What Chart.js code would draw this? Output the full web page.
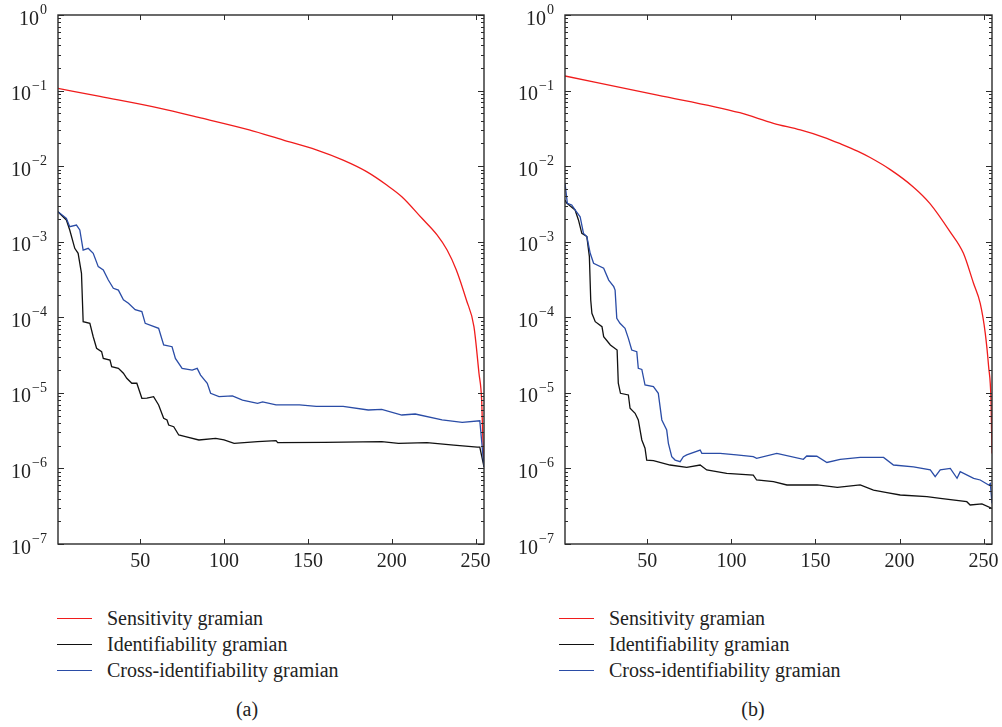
<!DOCTYPE html>
<html>
<head>
<meta charset="utf-8">
<title>Gramian eigenvalue spectra</title>
<script src="https://cdn.jsdelivr.net/npm/chart.js@4.4.1/dist/chart.umd.min.js"></script>
<style>
  body {
    margin: 0;
    width: 1002px;
    height: 727px;
    position: relative;
    overflow: hidden;
    background: #fff;
    font-family: "Liberation Serif", "DejaVu Serif", serif;
    color: #222;
  }
  .panel { position: absolute; top: 0; width: 501px; height: 600px; }
  .legend { position: absolute; top: 605px; font-size: 20px; }
  .legend .row { display: flex; align-items: center; height: 26px; white-space: nowrap; }
  .legend .swatch { width: 35px; height: 0; border-top: 1.5px solid; margin-right: 15px; }
  .caption { position: absolute; top: 698px; width: 120px; text-align: center; font-size: 20px; }
</style>
</head>
<body>
<div class="panel" style="left:0"><canvas id="chartA" width="501" height="600"></canvas></div>
<div class="panel" style="left:501px"><canvas id="chartB" width="501" height="600"></canvas></div>
<div class="legend" id="legendA" style="left:57px"></div>
<div class="legend" id="legendB" style="left:559px"></div>
<div class="caption" style="left:187px">(a)</div>
<div class="caption" style="left:693px">(b)</div>

<script>
// axis ticks
const xTicks = [50, 100, 150, 200, 250];
const yExponents = [0, -1, -2, -3, -4, -5, -6, -7];

const seriesNames = ['Sensitivity gramian', 'Identifiability gramian', 'Cross-identifiability gramian'];
const seriesColors = ['#f01c1c', '#111111', '#2a4ca6'];

const serif = '"Liberation Serif", "DejaVu Serif", serif';

// panel (a)
const sensXA = [1, 26, 62, 86, 115, 135, 155, 171, 185, 197, 206, 218, 227, 233, 238.5, 244.5, 249, 252, 253.6, 254.2, 255];
const sensA = [0.107, 0.0836, 0.0582, 0.0434, 0.0301, 0.0222, 0.0164, 0.0120, 8.45e-3, 5.62e-3, 3.94e-3, 2.04e-3, 1.23e-3, 7.76e-4, 4.23e-4, 1.69e-4, 7.52e-5, 1.82e-5, 8.04e-6, 2.95e-6, 1.05e-6];

const identXA = [1, 6, 8, 11, 13, 15, 16, 20, 22, 24, 27, 28, 32, 33, 37, 40, 42, 45, 48, 51, 54, 58, 61, 64, 66, 67, 70, 73, 77, 85, 95, 100, 106, 120, 131, 132, 160, 194, 204, 221, 237, 251, 252.5, 255];
const identA = [2.49e-3, 1.94e-3, 1.43e-3, 8.18e-4, 7.02e-4, 3.82e-4, 8.75e-5, 8.32e-5, 5.53e-5, 3.89e-5, 3.51e-5, 2.86e-5, 2.72e-5, 2.22e-5, 2.11e-5, 1.82e-5, 1.56e-5, 1.34e-5, 1.34e-5, 8.47e-6, 8.51e-6, 8.91e-6, 6.92e-6, 4.60e-6, 4.37e-6, 3.75e-6, 3.56e-6, 2.77e-6, 2.63e-6, 2.38e-6, 2.50e-6, 2.38e-6, 2.15e-6, 2.26e-6, 2.33e-6, 2.19e-6, 2.21e-6, 2.26e-6, 2.15e-6, 2.19e-6, 2.04e-6, 1.91e-6, 1.91e-6, 1.05e-6];

const crossXA = [1, 6, 8, 12, 14, 16, 19, 22, 25, 28, 31, 34, 37, 40, 43, 47, 51, 53, 61, 64, 69, 71, 75, 81, 84, 86, 90, 92, 97, 105, 111, 120, 123, 131, 145, 155, 171, 186, 194, 206, 214, 230, 242, 252.5, 255];
const crossA = [2.49e-3, 2.04e-3, 1.58e-3, 1.66e-3, 1.43e-3, 7.76e-4, 8.18e-4, 7.02e-4, 4.68e-4, 4.23e-4, 3.11e-4, 2.42e-4, 2.29e-4, 1.70e-4, 1.53e-4, 1.26e-4, 1.19e-4, 8.32e-5, 7.14e-5, 4.30e-5, 4.08e-5, 2.86e-5, 2.11e-5, 2.00e-5, 2.11e-5, 1.72e-5, 1.34e-5, 9.86e-6, 8.91e-6, 9.12e-6, 8.04e-6, 7.26e-6, 7.59e-6, 6.92e-6, 6.92e-6, 6.61e-6, 6.61e-6, 5.93e-6, 6.03e-6, 5.09e-6, 5.25e-6, 4.38e-6, 4.07e-6, 4.27e-6, 1.05e-6];

// panel (b)
const sensXB = [1, 56, 105, 125, 141, 155, 165, 175, 182.5, 194.5, 208, 218, 230, 238, 244, 248, 251, 253, 254.4, 255];
const sensB = [0.156, 0.0873, 0.0509, 0.0369, 0.0301, 0.0241, 0.0197, 0.0158, 0.0130, 9.0e-3, 5.35e-3, 3.22e-3, 1.36e-3, 7.02e-4, 2.82e-4, 1.53e-4, 6.14e-5, 2.22e-5, 8.04e-6, 1.58e-6];

const identXB = [1, 2, 7, 9, 11, 14, 15.5, 16.3, 17, 19, 23, 24, 28, 32, 32.7, 34, 38.7, 39.7, 42.7, 44.6, 46.7, 48.6, 49.6, 53.6, 63.5, 73.4, 81.4, 85.3, 97.2, 113, 115, 125, 133, 151, 163, 176.6, 184.5, 192.5, 200.4, 216.3, 224.2, 240, 242, 249, 255];
const identB = [3.56e-3, 3.24e-3, 2.63e-3, 1.94e-3, 1.29e-3, 1.17e-3, 6.34e-4, 1.69e-4, 1.13e-4, 8.75e-5, 7.52e-5, 5.53e-5, 4.30e-5, 3.69e-5, 1.34e-5, 9.86e-6, 9.38e-6, 6.25e-6, 5.37e-6, 4.38e-6, 2.38e-6, 1.85e-6, 1.29e-6, 1.27e-6, 1.11e-6, 1.03e-6, 1.11e-6, 9.55e-7, 8.61e-7, 8.18e-7, 7.03e-7, 6.68e-7, 6.04e-7, 6.04e-7, 5.62e-7, 6.04e-7, 5.18e-7, 4.79e-7, 4.45e-7, 4.23e-7, 4.02e-7, 3.63e-7, 3.28e-7, 3.39e-7, 2.96e-7];

const crossXB = [1, 2.4, 5, 7, 10, 12, 14, 16, 18, 24, 27, 30, 30.8, 31.8, 33.7, 36.7, 38.7, 40.7, 43.7, 44.6, 46.7, 48.6, 53.6, 56.5, 58.6, 61.5, 62.5, 64.5, 66.5, 69.5, 71.4, 73.4, 81.4, 82.4, 93.3, 103, 113, 115, 127, 142.8, 144.8, 150.8, 156.8, 164.7, 176.6, 190.5, 196.4, 208.3, 218.3, 221.2, 224.2, 230.2, 234.2, 236.1, 244.1, 248, 253, 254, 255];
const crossB = [5.93e-3, 3.22e-3, 3.06e-3, 2.63e-3, 2.14e-3, 1.29e-3, 1.17e-3, 7.02e-4, 5.18e-4, 4.45e-4, 3.11e-4, 2.54e-4, 2.29e-4, 9.68e-5, 8.32e-5, 7.14e-5, 5.26e-5, 3.69e-5, 3.51e-5, 2.11e-5, 2.04e-5, 1.27e-5, 1.21e-5, 9.86e-6, 4.38e-6, 3.22e-6, 2.15e-6, 1.43e-6, 1.29e-6, 1.23e-6, 1.43e-6, 1.51e-6, 1.75e-6, 1.58e-6, 1.58e-6, 1.51e-6, 1.43e-6, 1.36e-6, 1.58e-6, 1.32e-6, 1.46e-6, 1.45e-6, 1.20e-6, 1.32e-6, 1.40e-6, 1.40e-6, 1.11e-6, 1.05e-6, 9.55e-7, 7.78e-7, 9.55e-7, 1.00e-6, 7.41e-7, 9.06e-7, 7.41e-7, 7.03e-7, 6.04e-7, 6.31e-7, 3.45e-7];

// box, inward ticks and tick labels (10^n with superscripts)
const framePlugin = {
  id: 'frame',
  afterDraw(chart) {
    const { ctx, chartArea: a } = chart;
    const x = chart.scales.x, y = chart.scales.y;
    ctx.save();
    ctx.strokeStyle = '#2b2b2b';
    ctx.lineWidth = 1.4;
    ctx.strokeRect(a.left, a.top, a.right - a.left, a.bottom - a.top);

    ctx.lineWidth = 1;
    ctx.beginPath();
    yExponents.forEach(e => {
      for (let m = 1; m <= 9; m++) {
        if (e === 0 && m > 1) break;
        const py = Math.round(y.getPixelForValue(m * Math.pow(10, e))) + 0.5;
        const len = m === 1 ? 6 : 3;
        ctx.moveTo(a.left, py); ctx.lineTo(a.left + len, py);
        ctx.moveTo(a.right, py); ctx.lineTo(a.right - len, py);
      }
    });
    xTicks.forEach(v => {
      const px = Math.round(x.getPixelForValue(v)) + 0.5;
      ctx.moveTo(px, a.bottom); ctx.lineTo(px, a.bottom - 5);
      ctx.moveTo(px, a.top); ctx.lineTo(px, a.top + 5);
    });
    ctx.stroke();

    ctx.fillStyle = '#222';
    ctx.textBaseline = 'alphabetic';
    ctx.font = '20px ' + serif;
    ctx.textAlign = 'center';
    xTicks.forEach(v => ctx.fillText(String(v), x.getPixelForValue(v), a.bottom + 23));

    ctx.textAlign = 'right';
    const right = a.left - 11;
    yExponents.forEach(e => {
      const py = y.getPixelForValue(Math.pow(10, e));
      const sup = e === 0 ? '0' : '\u2212' + (-e);
      ctx.font = '14px ' + serif;
      const sw = ctx.measureText(sup).width;
      ctx.fillText(sup, right, py - 1);
      ctx.font = '20px ' + serif;
      ctx.fillText('10', right - sw - 1, py + 9.5);
    });
    ctx.restore();
  }
};

function drawPanel(id, axisWidth, padRight, series) {
  const datasets = series.map((s, i) => ({
    label: seriesNames[i],
    data: s[0].map((xv, k) => ({ x: xv, y: s[1][k] })),
    borderColor: seriesColors[i],
    borderWidth: 1.3,
    pointRadius: 0,
    tension: 0,
    // the sensitivity curve is smooth in the source figure
    cubicInterpolationMode: i === 0 ? 'monotone' : 'default',
    fill: false,
    order: 2 - i
  }));

  new Chart(document.getElementById(id), {
    type: 'line',
    data: { datasets: datasets },
    options: {
      responsive: false,
      animation: false,
      devicePixelRatio: 1,
      events: [],
      layout: { padding: { left: 0, top: 15, right: padRight, bottom: 0 } },
      plugins: { legend: { display: false }, tooltip: { enabled: false } },
      scales: {
        x: {
          type: 'linear', min: 1, max: 255,
          grid: { display: false }, border: { display: false }, ticks: { display: false },
          afterFit: s => { s.height = 56; }
        },
        y: {
          type: 'logarithmic', min: 1e-7, max: 1,
          grid: { display: false }, border: { display: false }, ticks: { display: false },
          afterFit: s => { s.width = axisWidth; }
        }
      }
    },
    plugins: [framePlugin]
  });
}

function buildLegend(id) {
  const box = document.getElementById(id);
  seriesNames.forEach((name, i) => {
    const row = document.createElement('div');
    row.className = 'row';
    const sw = document.createElement('span');
    sw.className = 'swatch';
    sw.style.borderTopColor = seriesColors[i];
    const txt = document.createElement('span');
    txt.textContent = name;
    row.appendChild(sw);
    row.appendChild(txt);
    box.appendChild(row);
  });
}

drawPanel('chartA', 58, 17, [[sensXA, sensA], [identXA, identA], [crossXA, crossA]]);
drawPanel('chartB', 64, 10, [[sensXB, sensB], [identXB, identB], [crossXB, crossB]]);
buildLegend('legendA');
buildLegend('legendB');
</script>
</body>
</html>
